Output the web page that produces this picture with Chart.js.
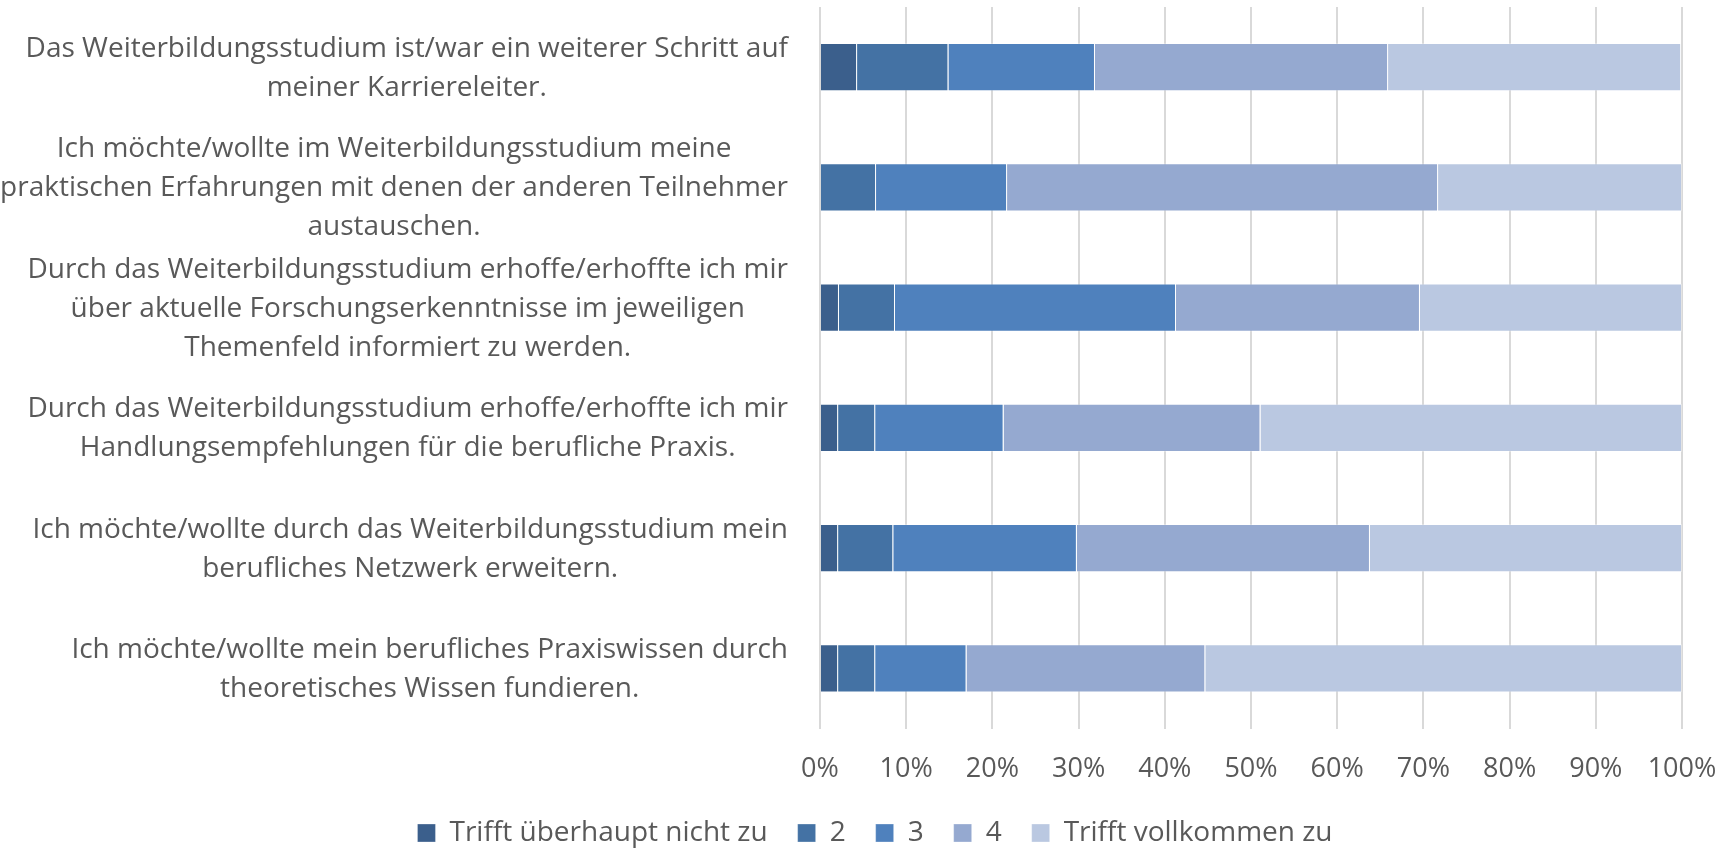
<!DOCTYPE html>
<html lang="de">
<head>
<meta charset="utf-8">
<title>Weiterbildungsstudium</title>
<script src="https://cdn.jsdelivr.net/npm/chart.js@4/dist/chart.umd.min.js"></script>
<style>
  html, body { margin: 0; padding: 0; background: #ffffff; }
  #wrap { width: 1733px; height: 849px; }
</style>
</head>
<body>
<div id="wrap"><canvas id="chart" width="1733" height="849"></canvas></div>
<script>
// Aussagen (Zeilen wie im Original umbrochen)
const aussagen = [
    ["Das Weiterbildungsstudium ist/war ein weiterer Schritt auf", "meiner Karriereleiter."],
    ["Ich möchte/wollte im Weiterbildungsstudium meine", "praktischen Erfahrungen mit denen der anderen Teilnehmer", "austauschen."],
    ["Durch das Weiterbildungsstudium erhoffe/erhoffte ich mir", "über aktuelle Forschungserkenntnisse im jeweiligen", "Themenfeld informiert zu werden."],
    ["Durch das Weiterbildungsstudium erhoffe/erhoffte ich mir", "Handlungsempfehlungen für die berufliche Praxis."],
    ["Ich möchte/wollte durch das Weiterbildungsstudium mein", "berufliches Netzwerk erweitern."],
    ["Ich möchte/wollte mein berufliches Praxiswissen durch", "theoretisches Wissen fundieren."]
];

// Antwortstufen
const stufen = ["Trifft überhaupt nicht zu", "2", "3", "4", "Trifft vollkommen zu"];

// Anteile in Prozent je Stufe (Reihenfolge wie aussagen)
const stufe1 = [4.3, 0.0, 2.2, 2.1, 2.1, 2.1];
const stufe2 = [10.6, 6.5, 6.5, 4.3, 6.4, 4.3];
const stufe3 = [17.0, 15.2, 32.6, 14.9, 21.3, 10.6];
const stufe4 = [34.0, 50.0, 28.3, 29.8, 34.0, 27.7];
const stufe5 = [34.0, 28.3, 30.4, 48.9, 36.2, 55.3];

const farben = ["#3b5f8c", "#4472a4", "#4f81bd", "#95a9d0", "#bac8e1"];

const textFarbe = "#595959";
const schrift = "'Open Sans', 'DejaVu Sans', sans-serif";

// Eigene Beschriftung der Aussagen: rechtsbündig als Block, Zeilen zentriert
const aussagenPlugin = {
    id: "aussagen",
    afterDraw(chart) {
        const ctx = chart.ctx;
        const yScale = chart.scales.y;
        const rechts = chart.chartArea.left - 32;
        const zeilenHoehe = 39;
        ctx.save();
        ctx.font = "28px " + schrift;
        ctx.fillStyle = textFarbe;
        ctx.textAlign = "center";
        ctx.textBaseline = "middle";
        aussagen.forEach((zeilen, i) => {
            const breite = Math.max(...zeilen.map(z => ctx.measureText(z).width));
            const mitteX = rechts - breite / 2;
            const mitteY = yScale.getPixelForTick(i) + 1;
            const startY = mitteY - (zeilen.length - 1) * zeilenHoehe / 2;
            zeilen.forEach((z, k) => ctx.fillText(z, mitteX, startY + k * zeilenHoehe));
        });
        ctx.restore();
    }
};

// Legende etwas niedriger machen, damit sie dichter am unteren Rand sitzt
const legendenHoehe = {
    id: "legendenHoehe",
    afterInit(chart) {
        const fitAlt = chart.legend.fit;
        chart.legend.fit = function () {
            fitAlt.call(this);
            this.height = 60;
        };
    }
};

const daten = [stufe1, stufe2, stufe3, stufe4, stufe5];

new Chart(document.getElementById("chart"), {
    type: "bar",
    data: {
        labels: aussagen.map(z => z.join(" ")),
        datasets: stufen.map((name, i) => ({
            label: name,
            data: daten[i],
            backgroundColor: farben[i],
            borderColor: "rgba(255,255,255,0.3)",
            borderWidth: 1,
            barPercentage: 0.4,
            categoryPercentage: 1.0
        }))
    },
    options: {
        indexAxis: "y",
        responsive: false,
        animation: false,
        layout: { padding: { top: 7, right: 51, bottom: 0, left: 68 } },
        plugins: {
            tooltip: { enabled: false },
            legend: {
                position: "bottom",
                labels: {
                    color: textFarbe,
                    font: { family: schrift, size: 28 },
                    boxWidth: 18,
                    boxHeight: 18,
                    padding: 30
                }
            }
        },
        scales: {
            x: {
                stacked: true,
                min: 0,
                max: 100,
                ticks: {
                    stepSize: 10,
                    color: textFarbe,
                    font: { family: schrift, size: 27 },
                    padding: 25,
                    callback: v => v + "%"
                },
                grid: { color: "#d9d9d9", lineWidth: 2, drawTicks: false },
                border: { display: false },
                afterFit: scale => {
                    scale.height = 60.5;
                    scale.paddingLeft = 0;
                    scale.paddingRight = 0;
                }
            },
            y: {
                stacked: true,
                ticks: { display: false },
                grid: { display: false },
                border: { display: false },
                afterFit: scale => { scale.width = 752; }
            }
        }
    },
    plugins: [aussagenPlugin, legendenHoehe]
});
</script>
</body>
</html>
